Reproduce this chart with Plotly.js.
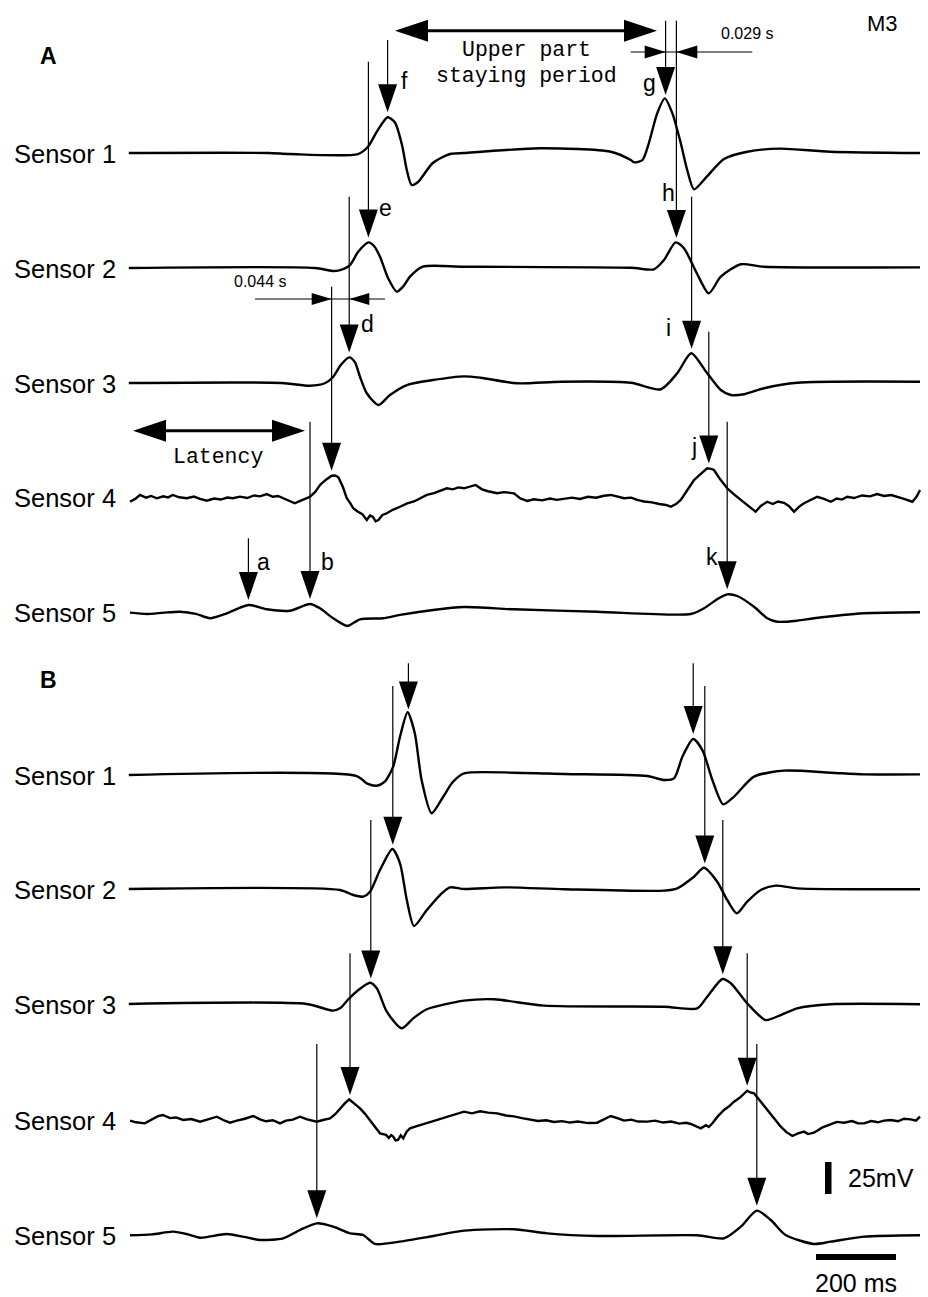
<!DOCTYPE html>
<html>
<head>
<meta charset="utf-8">
<script src="https://cdn.plot.ly/plotly-3.0.1.min.js"></script>
<style>html,body{margin:0;padding:0;background:#fff;}#chart{width:928px;height:1297px;}</style>
</head>
<body>
<div id="chart"></div>
<script>
// ---- Data: [time (ms), signal (mV relative to baseline)] ----
const sensorA1 = [[2,0],[350,0],[405,-0.8],[575,-0.8],[600,4.9],[622,16.6],[649,27.9],[667,24],[685,6.3],[697,-13.3],[709,-25],[725,-22.7],[762,-7.8],[805,-0.8],[840,0],[1030,3.7],[1207,1],[1257,-5.5],[1265,-7.3],[1286,-5.5],[1302,7.6],[1323,31],[1342,42.7],[1361,31],[1382,7.6],[1398,-13.3],[1415,-28.4],[1447,-18.5],[1490,-4.7],[1548,1],[1630,3.4],[1755,1],[1980,0]];
const sensorA2 = [[2,0],[467,0],[512,-2.3],[530,-1.6],[555,2.3],[575,12.5],[601,20],[615,17.2],[630,8.8],[650,-7.8],[672,-18.5],[687,-14.8],[705,-6.8],[737,1],[840,1],[1257,0.2],[1315,-1],[1340,6.3],[1369,20],[1390,15.4],[1422,-4.1],[1452,-19.8],[1482,-6.8],[1532,2.9],[1590,1],[1980,0.5]];
const sensorA3 = [[2,0],[384,0],[455,-2.1],[492,-0.2],[512,4.5],[532,14],[553,20],[567,16.4],[580,4.9],[597,-8],[626,-17.2],[655,-9.4],[697,-1.6],[762,2.3],[840,5.2],[882,4.1],[972,-0.2],[1082,1],[1257,0.2],[1332,-4.9],[1373,7.6],[1408,23.2],[1448,7.6],[1482,-5.5],[1507,-9.4],[1540,-8.8],[1590,-4.1],[1673,0.2],[1980,1]];
const sensorA4 = [[5,-3.7],[18,-1.5],[30,1.6],[45,-0.5],[58,0.8],[72,-1],[88,0.5],[100,-0.3],[112,1.6],[128,-0.2],[147,-1],[165,0.3],[180,-1.5],[197,-2.9],[215,-1.2],[232,-2],[248,-0.4],[262,-1],[280,0.3],[298,-0.8],[315,1.2],[330,0.5],[347,2.3],[362,0.2],[375,0.8],[387,-1],[400,-2.5],[417,-4.9],[435,-2.5],[455,0.2],[468,4],[480,9.4],[495,13.5],[509,16.6],[518,16.8],[526,15.4],[537,8],[547,-1],[556,-5],[563,-8.8],[575,-11.5],[586,-13.5],[597,-18],[605,-14.5],[612,-15.4],[619,-19],[626,-18],[636,-14],[647,-12.7],[662,-10],[680,-7.6],[698,-5],[715,-3.5],[732,-0.5],[747,1.6],[765,3],[780,4.8],[797,6.8],[812,6],[826,7.5],[840,6.8],[855,8],[869,9.4],[885,6],[900,4.5],[923,2.9],[940,3.8],[965,2.9],[980,-1],[998,-3.1],[1015,-1.8],[1035,-2.6],[1055,-1.2],[1072,-2.2],[1090,-1.6],[1110,-0.5],[1130,-1.5],[1150,0.2],[1170,-0.6],[1190,1],[1207,1.6],[1225,0.2],[1240,-1],[1258,-0.5],[1273,-2.3],[1290,-3.5],[1310,-4.2],[1328,-5.5],[1345,-6.2],[1357,-7.6],[1370,-5.5],[1382,-2.3],[1398,5],[1415,13.3],[1432,18],[1448,22.4],[1458,22],[1465,21.1],[1480,14],[1498,6.8],[1515,2],[1532,-2.3],[1550,-7],[1569,-11.5],[1582,-7],[1598,-3.7],[1612,-5.5],[1625,-3.5],[1640,-4.5],[1652,-7],[1665,-11.5],[1678,-7.5],[1690,-4.9],[1705,-2.5],[1723,0.2],[1740,-1.5],[1757,-3.7],[1772,-1.2],[1785,-2],[1798,0.2],[1815,-0.8],[1835,1.2],[1855,0.5],[1873,2.3],[1890,0.8],[1908,1.5],[1923,0.2],[1940,-1.5],[1961,-3.7],[1972,0.5],[1980,5.5]];
const sensorA5 = [[5,-0.5],[47,-1.6],[90,-0.5],[130,0.2],[170,-1.5],[205,-4.9],[247,-1],[301,5.5],[347,2.1],[405,1],[455,6.3],[480,2.9],[513,-4.9],[548,-10.9],[580,-5.7],[638,-4.9],[680,-2.3],[763,1.6],[840,3.9],[965,2.1],[1173,0.2],[1407,-1.6],[1440,2.9],[1473,10],[1498,13.8],[1523,12.5],[1565,4.1],[1598,-4.9],[1623,-7.6],[1673,-6.8],[1715,-4.9],[1840,-1],[1980,-0.2]];

const sensorB1 = [[2,0],[572,-0.8],[597,-6.5],[622,-8.4],[642,-5.2],[663,6.5],[680,29.9],[699,49],[717,32.6],[734,-3.9],[759,-29.9],[788,-17],[812,-5.5],[840,1.3],[965,1.8],[1090,0.8],[1298,-0.8],[1340,-3.9],[1365,-2.6],[1386,14.3],[1413,28.1],[1436,19.5],[1461,-3.9],[1488,-22.9],[1515,-16.9],[1565,-1.3],[1640,3.4],[1757,1.8],[1840,0.5],[1980,0.5]];
const sensorB2 = [[2,0],[530,-0.8],[563,-4.7],[588,-6],[605,-2.1],[630,14.8],[661,31.3],[680,20.1],[697,-8.6],[715,-28.9],[747,-16.4],[780,-4.7],[805,1.3],[840,0],[940,1.3],[1090,-0.2],[1340,-1.3],[1373,0.5],[1415,9.6],[1440,16.6],[1473,5.7],[1498,-8.6],[1522,-19],[1548,-9.9],[1582,-0.8],[1619,2.6],[1673,0.5],[1980,-0.2]];
const sensorB3 = [[2,0],[447,0],[513,-5.2],[530,-3.4],[551,3.7],[576,10.9],[605,16.6],[622,12.3],[647,-6],[684,-19],[713,-11.2],[747,-4.1],[840,2.6],[915,3.7],[1040,-1.3],[1340,-2.1],[1423,-3.4],[1448,5.7],[1486,19.5],[1507,16.2],[1548,0.5],[1594,-12.5],[1632,-8.6],[1673,-3.4],[1757,-0.2],[1980,-0.2]];
const sensorB4 = [[5,-0.5],[20,-1.8],[42,-2.6],[60,0.5],[75,3],[87,3.9],[105,1.5],[120,2],[138,0],[158,0.8],[180,-1.3],[200,0.5],[222,2.6],[238,0],[255,-2.1],[272,-0.5],[290,0.8],[313,3.1],[330,0.5],[345,-1],[362,-0.2],[380,-2.6],[395,-0.5],[412,0.3],[430,2.6],[448,0.5],[460,-0.5],[472,-1.3],[490,0.2],[505,1.3],[518,4.5],[530,9.1],[542,13],[553,16.2],[566,13],[580,9.1],[592,5],[605,0],[618,-5],[630,-10.4],[645,-11.5],[652,-14],[658,-11.8],[663,-13],[669,-16],[675,-15.6],[682,-12],[688,-14.3],[697,-9],[705,-6.5],[720,-5],[735,-3.5],[750,-2.5],[763,-1.3],[780,1],[800,2.5],[820,4.5],[840,6.5],[860,5.2],[880,6.8],[900,5.8],[923,5.2],[945,3.5],[965,2.8],[985,1.5],[1007,0],[1025,-0.8],[1045,-0.2],[1065,-1.5],[1085,-0.9],[1105,-2],[1125,-1.2],[1150,-2.4],[1173,-2.1],[1190,0.5],[1207,3.1],[1225,1.2],[1240,-0.5],[1258,0.3],[1275,-1.2],[1298,-1.3],[1318,-0.5],[1338,-2],[1358,-1.2],[1378,-2.8],[1395,-2.2],[1407,-3.1],[1420,-4.8],[1432,-6.5],[1445,-4],[1452,-5.5],[1461,-2.6],[1475,3],[1490,7.8],[1502,10.5],[1515,14.3],[1530,17.5],[1548,22.9],[1556,21.5],[1565,20.9],[1580,15],[1598,7.8],[1615,1],[1632,-5.2],[1646,-9.5],[1661,-12.5],[1675,-10.5],[1690,-9.1],[1700,-11],[1715,-9.9],[1735,-6],[1757,-3.1],[1772,-1.5],[1790,-2.1],[1810,-0.8],[1825,-2.5],[1840,-2.6],[1858,-0.8],[1875,-1.8],[1890,-0.5],[1907,0],[1925,-1],[1940,1],[1957,0.5],[1970,-0.5],[1980,2.6]];
const sensorB5 = [[5,-0.2],[60,0.5],[113,2.6],[150,0.5],[180,-2.1],[247,0.8],[290,-1.5],[330,-3.9],[388,-2.6],[430,3.9],[472,9.1],[513,6.5],[555,1.3],[588,0],[618,-7],[680,-5.2],[763,-0.8],[840,3.4],[965,4.5],[1048,1.3],[1173,-0.8],[1423,-0.2],[1490,-2.6],[1532,6.5],[1572,19],[1607,11.7],[1644,0],[1715,-7],[1757,-5.2],[1840,-1.3],[1980,-0.2]];

const sensorLabels = ['Sensor 1','Sensor 2','Sensor 3','Sensor 4','Sensor 5'];
// arrow markers: [time ms, row index, label]
const arrowsA = [[649,0,'f'],[601,1,'e'],[553,2,'d'],[509,3,''],[455,4,'b'],[301,4,'a'],[1344,0,'g'],[1371,1,'h'],[1409,2,'i'],[1452,3,'j'],[1498,4,'k']];
const arrowsB = [[701,0,''],[662,1,''],[607,2,''],[555,3,''],[472,4,''],[1413,0,''],[1442,1,''],[1487,2,''],[1548,3,''],[1572,4,'']];
const scaleTime = 200;  // ms
const scaleVolt = 25;   // mV

// ---- layout geometry (pixels) ----
const W = 928, H = 1297, X0 = 128, PXMS = 0.4, PXMV = 1.28;
const X = px => (px - X0) / PXMS;
const Y = py => (H - py) / PXMV;
const dX = px => px / PXMS;
const dY = py => py / PXMV;

const panels = [
  {rows:[sensorA1,sensorA2,sensorA3,sensorA4,sensorA5], base:[153,268,383,497,612], arrows:arrowsA, tops:[40,61.7,196.7,286.7,421.7,538.3,20.7,20.7,196.7,331.7,421.7]},
  {rows:[sensorB1,sensorB2,sensorB3,sensorB4,sensorB5], base:[775,889,1004,1120,1235], arrows:arrowsB, tops:[663.3,686,820,953.3,1044,663.3,686,820,953.3,1044]}
];

function interp(d, t){
  for (let i=0;i<d.length-1;i++){
    if (t>=d[i][0] && t<=d[i+1][0]){
      const f=(t-d[i][0])/(d[i+1][0]-d[i][0]);
      return d[i][1]+f*(d[i+1][1]-d[i][1]);
    }
  }
  return 0;
}

const traces=[], shapes=[], annotations=[];
const txtFont = "Arial, 'Liberation Sans', sans-serif";
const monoFont = "'Liberation Mono', 'DejaVu Sans Mono', monospace";

function ann(text, xpx, ypx, size, opts){
  annotations.push(Object.assign({text:text, x:X(xpx), y:Y(ypx), xref:'x', yref:'y', showarrow:false,
    xanchor:'center', yanchor:'middle', font:{family:txtFont, size:size, color:'#000'}}, opts||{}));
}
function triPath(pts){
  return 'M ' + pts.map(p=>p[0]+','+p[1]).join(' L ') + ' Z';
}
function hHead(tipPx, yPx, dir, len, half){
  const t = X(tipPx), b = X(tipPx - dir*len), y = Y(yPx);
  shapes.push({type:'path', xref:'x', yref:'y', path:triPath([[t,y],[b,y+dY(half)],[b,y-dY(half)]]), fillcolor:'#000', line:{width:0}});
}
function hLine(x0px, x1px, yPx, w){
  shapes.push({type:'line', xref:'x', yref:'y', x0:X(x0px), x1:X(x1px), y0:Y(yPx), y1:Y(yPx), line:{color:'#000', width:w}});
}

panels.forEach(p=>{
  p.rows.forEach((d,i)=>{
    const off = Y(p.base[i]);
    traces.push({type:'scatter', mode:'lines', x:d.map(q=>q[0]), y:d.map(q=>q[1]+off),
      line:{color:'#000', width:2.4, shape: i===3 ? 'linear' : 'spline', smoothing:0.7}, hoverinfo:'skip'});
    ann(sensorLabels[i], 118, p.base[i]+1, 25.5, {xanchor:'right'});
  });
  p.arrows.forEach((a,k)=>{
    const [t, r] = a;
    const tip = interp(p.rows[r], t) + Y(p.base[r]) + dY(5);
    const headLen = dY(28), half = dX(9.5);
    shapes.push({type:'line', xref:'x', yref:'y', x0:t, x1:t, y0:Y(p.tops[k]), y1:tip+headLen*0.5, line:{color:'#000', width:1.2}});
    shapes.push({type:'path', xref:'x', yref:'y', path:triPath([[t-half,tip+headLen],[t+half,tip+headLen],[t,tip]]), fillcolor:'#000', line:{width:0}});
  });
});

// letter labels for panel A arrows
const letterPos = {f:[404,81],e:[385,208],d:[367,324],a:[263,562],b:[327,562],g:[649,83],h:[668,193],i:[668,328],j:[694,447],k:[712,557]};
arrowsA.forEach(a=>{ if(a[2]) ann(a[2], letterPos[a[2]][0], letterPos[a[2]][1], 23); });

// Upper part staying period double arrow
hLine(410, 642, 30.7, 3);
hHead(395, 30.7, -1, 33, 11);
hHead(657, 30.7, 1, 33, 11);
ann('Upper part', 526, 50, 21.5, {font:{family:monoFont, size:21.5, color:'#000'}});
ann('staying period', 526, 76, 21.5, {font:{family:monoFont, size:21.5, color:'#000'}});

// Latency double arrow
hLine(150, 290, 430.7, 3);
hHead(133, 430.7, -1, 33, 11);
hHead(305, 430.7, 1, 33, 11);
ann('Latency', 218, 456.5, 21.5, {font:{family:monoFont, size:21.5, color:'#000'}});

// 0.029 s dimension
hLine(630.7, 752.3, 52, 1.2);
hHead(665.7, 52, 1, 21, 6.5);
hHead(676.3, 52, -1, 21, 6.5);
ann('0.029 s', 747, 33, 16);

// 0.044 s dimension
hLine(255, 385, 299, 1.2);
hHead(331.7, 299, 1, 20, 6);
hHead(349.3, 299, -1, 20, 6);
ann('0.044 s', 260, 281, 16);

// panel letters and id
ann('<b>A</b>', 48.5, 56, 23);
ann('<b>B</b>', 48.5, 680, 23);
ann('M3', 882, 23, 22);

// scale bars
shapes.push({type:'rect', xref:'x', yref:'y', x0:X(825), x1:X(831.5), y0:Y(1194), y1:Y(1194)+scaleVolt, fillcolor:'#000', line:{width:0}});
shapes.push({type:'rect', xref:'x', yref:'y', x0:X(816), x1:X(816)+scaleTime, y0:Y(1260), y1:Y(1254), fillcolor:'#000', line:{width:0}});
ann(scaleVolt+'mV', 846, 1178, 25, {xanchor:'left'});
ann(scaleTime+' ms', 856, 1283, 25);

const layout = {
  width:W, height:H, margin:{l:0,r:0,t:0,b:0},
  paper_bgcolor:'#fff', plot_bgcolor:'#fff', showlegend:false,
  xaxis:{range:[X(0), X(W)], visible:false, fixedrange:true},
  yaxis:{range:[Y(H), Y(0)], visible:false, fixedrange:true},
  shapes:shapes, annotations:annotations
};
Plotly.newPlot('chart', traces, layout, {staticPlot:true, displayModeBar:false});
</script>
</body>
</html>
